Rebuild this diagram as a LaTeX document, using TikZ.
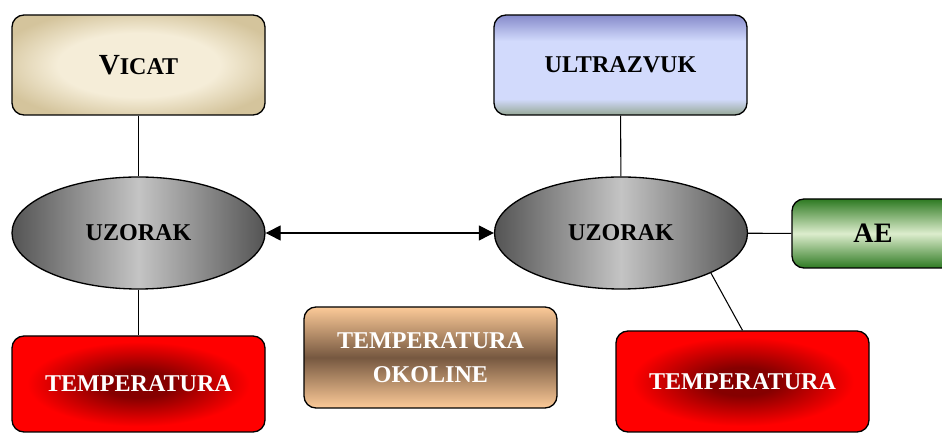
\documentclass[tikz,border=0pt]{standalone}
\usepackage{fontspec}
\setmainfont{Liberation Serif}
\usetikzlibrary{arrows.meta,shapes.geometric}
\definecolor{vicatsred}{HTML}{F5EDD8}
\definecolor{vicatrub}{HTML}{D4C49C}
\definecolor{uzvgore}{HTML}{868BCB}
\definecolor{uzvsred}{HTML}{D2DAFC}
\definecolor{uzvdolje}{HTML}{96A896}
\definecolor{sivatamna}{HTML}{545454}
\definecolor{sivasvijetla}{HTML}{C4C4C4}
\definecolor{tamnocrvena}{HTML}{850000}
\definecolor{breskva}{HTML}{FCCA98}
\definecolor{smeda}{HTML}{765840}
\definecolor{tamnozelena}{HTML}{2E7A22}
\definecolor{svijetlozelena}{HTML}{DDEDCD}
\pgfdeclareverticalshading{uzvsjena}{100bp}{color(0bp)=(uzvdolje); color(25bp)=(uzvdolje); color(33bp)=(uzvsred); color(62bp)=(uzvsred); color(75bp)=(uzvgore); color(100bp)=(uzvgore)}
\pgfdeclareradialshading{crvenasjena}{\pgfpoint{0bp}{0bp}}{color(0bp)=(tamnocrvena); color(7bp)=(tamnocrvena); color(22bp)=(red); color(50bp)=(red)}
\pgfdeclareradialshading{vicatsjena}{\pgfpoint{0bp}{0bp}}{color(0bp)=(vicatsred); color(16bp)=(vicatsred); color(29bp)=(vicatrub); color(50bp)=(vicatrub)}

\begin{document}
\begin{tikzpicture}
\tikzset{kutija/.style={draw, line width=0.75pt, rounded corners=0.24cm, minimum width=5.06cm, minimum height=2cm, inner sep=0pt, align=center, font=\bfseries\fontsize{13.7}{19.5}\selectfont},
         uzorak/.style={draw, line width=0.75pt, ellipse, minimum width=5.06cm, minimum height=2.24cm, inner sep=0pt, left color=sivatamna, right color=sivatamna, middle color=sivasvijetla, font=\bfseries\fontsize{13.7}{16}\selectfont},
         crvena/.style={kutija, shading=crvenasjena, text=white},
         veza/.style={line width=0.6pt}}
\useasboundingbox (0,0) rectangle (18.84,8.66);
\node[kutija, shading=vicatsjena] (V) at (2.77,7.36) {{\fontsize{16.6}{19}\selectfont V}ICAT};
\node[kutija, shading=uzvsjena] (U) at (12.41,7.36) {ULTRAZVUK};
\node[uzorak] (Z1) at (2.77,4.0) {UZORAK};
\node[uzorak] (Z2) at (12.42,4.0) {UZORAK};
\node[kutija, minimum width=3.24cm, minimum height=1.38cm, top color=tamnozelena, bottom color=tamnozelena, middle color=svijetlozelena, font=\bfseries\fontsize{16}{19}\selectfont] (AE) at (17.46,3.99) {AE};
\node[crvena, minimum height=1.92cm] (T1) at (2.77,0.98) {TEMPERATURA};
\node[kutija, top color=breskva, bottom color=breskva, middle color=smeda, text=white, minimum height=2.02cm] (TO) at (8.61,1.51) {TEMPERATURA\\OKOLINE};
\node[crvena, minimum height=2.02cm] (T2) at (14.85,1.03) {TEMPERATURA};
\draw[veza] (V) -- (Z1);
\draw[veza] (Z1) -- (T1);
\draw[veza] (U) -- (Z2);
\draw[veza] (Z2) -- (AE);
\draw[veza] (Z2.-24) -- (T2.north);
\draw[veza, {Triangle[length=3mm,width=3mm]}-{Triangle[length=3mm,width=3mm]}] (Z1) -- (Z2);
\end{tikzpicture}
\end{document}
